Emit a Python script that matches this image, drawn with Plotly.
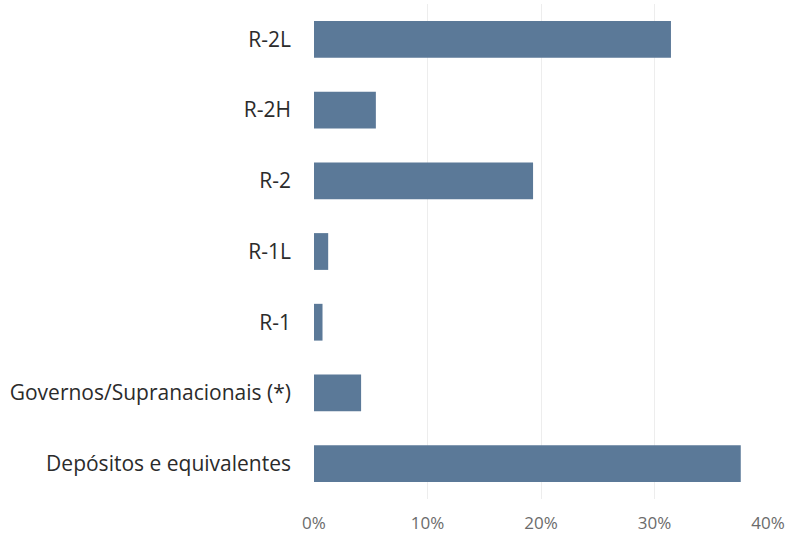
import plotly.graph_objects as go

# Portfolio allocation by rating / category (share of total)
categories = [
    "Depósitos e equivalentes",
    "Governos/Supranacionais (*)",
    "R-1",
    "R-1L",
    "R-2",
    "R-2H",
    "R-2L",
]
shares = [37.6, 4.15, 0.75, 1.25, 19.3, 5.45, 31.45]
tick_values = [0, 10, 20, 30, 40]
tick_labels = ["0%", "10%", "20%", "30%", "40%"]

bar_color = "#5b7998"

fig = go.Figure(
    go.Bar(
        x=shares,
        y=categories,
        orientation="h",
        marker=dict(color=bar_color, line=dict(width=0)),
        width=0.52,
        hoverinfo="x+y",
    )
)

fig.update_layout(
    width=792,
    height=538,
    margin=dict(l=314, r=24, t=4, b=39),
    paper_bgcolor="white",
    plot_bgcolor="white",
    showlegend=False,
    font=dict(family="Open Sans, sans-serif"),
)

fig.update_xaxes(
    range=[0, 40],
    tickvals=tick_values,
    ticktext=tick_labels,
    showgrid=True,
    gridcolor="#ededed",
    gridwidth=1,
    zeroline=False,
    showline=False,
    tickfont=dict(size=17, color="#6b6b6b"),
    ticklabelstandoff=12,
)

fig.update_yaxes(
    categoryorder="array",
    categoryarray=categories,
    range=[-0.5, 6.5],
    showgrid=False,
    zeroline=False,
    showline=False,
    tickfont=dict(size=21, color="#2b2b2b"),
    ticklabelstandoff=22,
)

fig.write_html("out.html")
